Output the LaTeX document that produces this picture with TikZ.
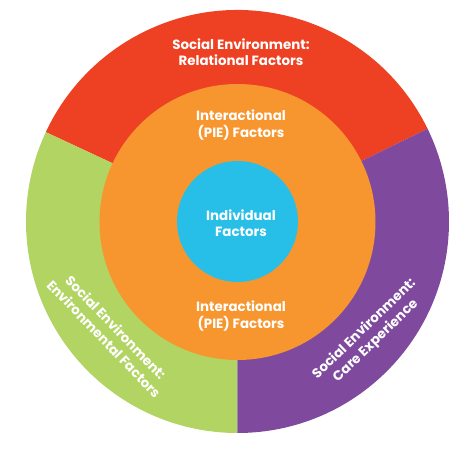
\documentclass[tikz,border=0pt]{standalone}
\usepackage{fontspec}
\setmainfont{Poppins}
\usepackage{tikz}
\usetikzlibrary{positioning}
\definecolor{relred}{HTML}{EE4023}
\definecolor{envgreen}{HTML}{B1D463}
\definecolor{carepurple}{HTML}{7F4A9E}
\definecolor{pieorange}{HTML}{F7962F}
\definecolor{indblue}{HTML}{27BFE8}
\tikzset{ringlabel/.style={text=white,font=\bfseries\fontsize{13.4}{16.5}\selectfont,align=center,inner sep=0pt}}

\begin{document}
\begin{tikzpicture}[x=1pt,y=1pt,
			rout/.store in=\rout, rout=211.5]

		\useasboundingbox (-237.5,-231.5) rectangle (236.5,221.5);

		% outer ring: social environment
		\fill[relred] (0,0) -- (26:\rout) arc[start angle=26, end angle=155, radius=\rout] -- cycle;
		\fill[envgreen] (0,0) -- (155:\rout) arc[start angle=155, end angle=270, radius=\rout] -- cycle;
		\fill[carepurple] (0,0) -- (270:\rout) arc[start angle=270, end angle=386, radius=\rout] -- cycle;

		% middle and inner circles
		\fill[pieorange] (0,-0.5) circle[radius=138];
		\fill[indblue] (0,0) circle[radius=60.5];

		\node[ringlabel] (relational) at (3.5,169.5) {Social Environment:\\Relational Factors};
		\node[ringlabel] (pietop) at (3.5,96.5) {Interactional\\(PIE) Factors};
		\node[ringlabel] (individual) at (3.5,-1.5) {Individual\\Factors};
		\node[ringlabel] (piebottom) at (3.5,-94.5) {Interactional\\(PIE) Factors};
		\node[ringlabel, rotate=-46] (environmental) at (-127.5,-111.5) {Social Environment:\\Environmental Factors};
		\node[ringlabel, rotate=44] (care) at (132.5,-113.5) {Social Environment:\\Care Experience};
	\end{tikzpicture}
\end{document}
